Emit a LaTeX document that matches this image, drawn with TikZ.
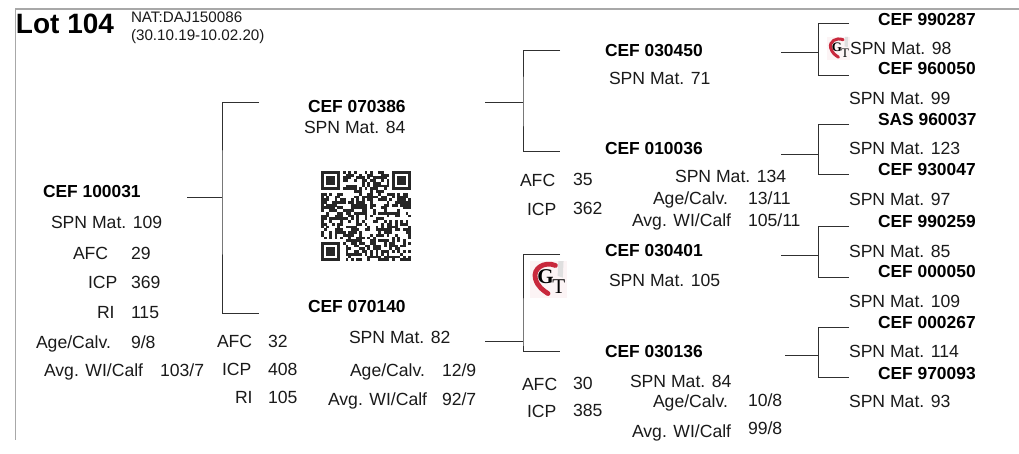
\documentclass[tikz,border=0pt]{standalone}
\usepackage{fontspec}
\setmainfont{Liberation Sans}
\newfontfamily\logofont{Liberation Serif}
\definecolor{ruleg}{HTML}{A8A8A8}
\definecolor{linec}{HTML}{303030}
\definecolor{txtc}{HTML}{1A1A1A}
\definecolor{logored}{HTML}{C8283C}
\tikzset{
 lab/.style={anchor=base west,inner sep=0pt,outer sep=0pt,text=txtc,font=\fontsize{17.6}{18}\selectfont},
 cef/.style={lab,text=black,font=\fontsize{17.4}{18}\bfseries\selectfont},
 small/.style={lab,font=\fontsize{15.2}{16}\selectfont},
 big/.style={lab,text=black,font=\fontsize{28}{30}\bfseries\selectfont},
 conn/.style={draw=linec,line width=0.9pt},
 frameline/.style={draw=ruleg,line width=1.6pt},
}
\newcommand{\gtlogo}[4]{% x,y (centre), size, letter size
 \begin{scope}[shift={(#1,#2)},x=#3pt,y=-#3pt]
  \fill[logored!5] (-.5,-.5) rectangle (.5,.5);
  \fill[gray!25] (.28,-.5) -- (.42,-.5) -- (.4,-.05) -- (.26,-.1) -- cycle;
  \draw[logored,line width=.13*#3pt,line cap=round] (.2,-.38) .. controls (-.1,-.5) and (-.42,-.3) .. (-.34,-.02) .. controls (-.28,.2) and (-.12,.3) .. (.0,.38);
  \node[inner sep=0pt,text=black,font=\logofont\fontsize{#4}{#4}\selectfont\bfseries] at (-.07,-.07) {G};
  \node[inner sep=0pt,text=black,font=\logofont\fontsize{#4}{#4}\selectfont] at (.29,.2) {T};
 \end{scope}}
\begin{document}
\begin{tikzpicture}[x=1pt,y=-1pt]
\useasboundingbox (0,0) rectangle (1019,454);
\fill[white] (0,0) rectangle (1019,454);
\coordinate (fa) at (1019,9); \coordinate (fb) at (15.5,9); \coordinate (fc) at (15.5,440);
\draw[frameline] (fa) -- (fb) -- (fc);

% text
\node[big] (lot) at (16,34) {Lot 104};
\node[small] (nat) at (131,23) {NAT:DAJ150086};
\node[small] (dates) at (131,41) {(30.10.19-10.02.20)};

\node[cef] (a1) at (43,198) {CEF 100031};
\node[lab] (a2) at (51,228.5) {SPN Mat. 109};
\node[lab] (a3) at (73,259) {AFC}; \node[lab] (a3v) at (131,259) {29};
\node[lab] (a4) at (88,288) {ICP}; \node[lab] (a4v) at (131,288) {369};
\node[lab] (a5) at (97,318) {RI}; \node[lab] (a5v) at (131,318) {115};
\node[lab] (a6) at (36,348) {Age/Calv.}; \node[lab] (a6v) at (131,348) {9/8};
\node[lab] (a7) at (44,376) {Avg. WI/Calf}; \node[lab] (a7v) at (160,376) {103/7};
\node[lab] (a8) at (217,347) {AFC}; \node[lab] (a8v) at (268,347) {32};
\node[lab] (a9) at (222,375) {ICP}; \node[lab] (a9v) at (268,375) {408};
\node[lab] (a10) at (235,403) {RI}; \node[lab] (a10v) at (268,403) {105};

\node[cef] (b1) at (308,113) {CEF 070386};
\node[lab] (b2) at (304,134) {SPN Mat. 84};
\node[cef] (c1) at (308,312) {CEF 070140};
\node[lab] (c2) at (349,343) {SPN Mat. 82};
\node[lab] (c3) at (350,376) {Age/Calv.}; \node[lab] (c3v) at (442,376) {12/9};
\node[lab] (c4) at (328,405) {Avg. WI/Calf}; \node[lab] (c4v) at (442,405) {92/7};

\node[cef] (d1) at (605,57) {CEF 030450};
\node[lab] (d2) at (609,85) {SPN Mat. 71};
\node[cef] (e1) at (605,155) {CEF 010036};
\node[lab] (e2) at (520,187) {AFC}; \node[lab] (e2v) at (573,186) {35};
\node[lab] (e3) at (527,216) {ICP}; \node[lab] (e3v) at (573,215) {362};
\node[lab] (e4) at (675,183) {SPN Mat. 134};
\node[lab] (e5) at (653,205) {Age/Calv.}; \node[lab] (e5v) at (748,205) {13/11};
\node[lab] (e6) at (632,227) {Avg. WI/Calf}; \node[lab] (e6v) at (748,227) {105/11};
\node[cef] (f1) at (605,256) {CEF 030401};
\node[lab] (f2) at (609,286) {SPN Mat. 105};
\node[cef] (g1) at (605,357) {CEF 030136};
\node[lab] (g2) at (630,387) {SPN Mat. 84};
\node[lab] (g3) at (653,407) {Age/Calv.}; \node[lab] (g3v) at (748,406) {10/8};
\node[lab] (g4) at (632,437) {Avg. WI/Calf}; \node[lab] (g4v) at (748,434) {99/8};
\node[lab] (g5) at (522,390) {AFC}; \node[lab] (g5v) at (573,389) {30};
\node[lab] (g6) at (527,417) {ICP}; \node[lab] (g6v) at (573,416) {385};

\node[cef] (h1) at (878,25.5) {CEF 990287};
\node[lab] (h2) at (850,55) {SPN Mat. 98};
\node[cef] (h3) at (878,75) {CEF 960050};
\node[lab] (h4) at (849,105) {SPN Mat. 99};
\node[cef] (h5) at (878,126) {SAS 960037};
\node[lab] (h6) at (849,155) {SPN Mat. 123};
\node[cef] (h7) at (878,176) {CEF 930047};
\node[lab] (h8) at (849,206) {SPN Mat. 97};
\node[cef] (h9) at (878,228) {CEF 990259};
\node[lab] (h10) at (849,258) {SPN Mat. 85};
\node[cef] (h11) at (878,277) {CEF 000050};
\node[lab] (h12) at (849,307) {SPN Mat. 109};
\node[cef] (h13) at (878,328) {CEF 000267};
\node[lab] (h14) at (849,357) {SPN Mat. 114};
\node[cef] (h15) at (878,379) {CEF 970093};
\node[lab] (h16) at (849,407) {SPN Mat. 93};

% connectors
\foreach \n/\sx/\sy/\vx/\ta/\tb/\ex in {
 p/187/197/222/102/313/259,
 q/485/102/523/50/151/560,
 r/485/341/523/254/351/560,
 s/781/52/818/23/75/849,
 t/781/154/818/124/174/849,
 u/781/255/818/226/277/849,
 v/785/355/818/327/377/849}{
  \coordinate (\n s) at (\sx,\sy);
  \coordinate (\n m) at (\vx,\sy);
  \coordinate (\n a) at (\ex,\ta);
  \coordinate (\n b) at (\ex,\tb);
  \draw[conn] (\n s) -- (\n m);
  \draw[conn] (\n a) -| (\n m) |- (\n b);
}

% logos
\gtlogo{838.5}{48.5}{23}{13}
\gtlogo{548}{279.5}{37}{21}

% QR code
\begin{scope}[shift={(321,171)},x=2.73pt,y=-2.73pt]
 \pgfmathsetseed{1041}
 \foreach \i in {0,...,32}{\foreach \j in {0,...,32}{
   \pgfmathparse{rnd<0.52?1:0}
   \ifnum\pgfmathresult=1 \fill[black!85] (\i,\j) rectangle +(1.02,1.02);\fi
 }}
 \foreach \ox/\oy in {0/0,26/0,0/26}{
   \fill[black!85] (\ox,\oy) rectangle +(7,7);
   \fill[white] (\ox+1,\oy+1) rectangle +(5,5);
   \fill[black!85] (\ox+2,\oy+2) rectangle +(3,3);
 }
 \fill[white] (7,0) rectangle +(1,8); \fill[white] (0,7) rectangle +(8,1);
 \fill[white] (25,0) rectangle +(1,8); \fill[white] (25,7) rectangle +(8,1);
 \fill[white] (7,25) rectangle +(1,8); \fill[white] (0,25) rectangle +(8,1);
\end{scope}
\end{tikzpicture}
\end{document}
